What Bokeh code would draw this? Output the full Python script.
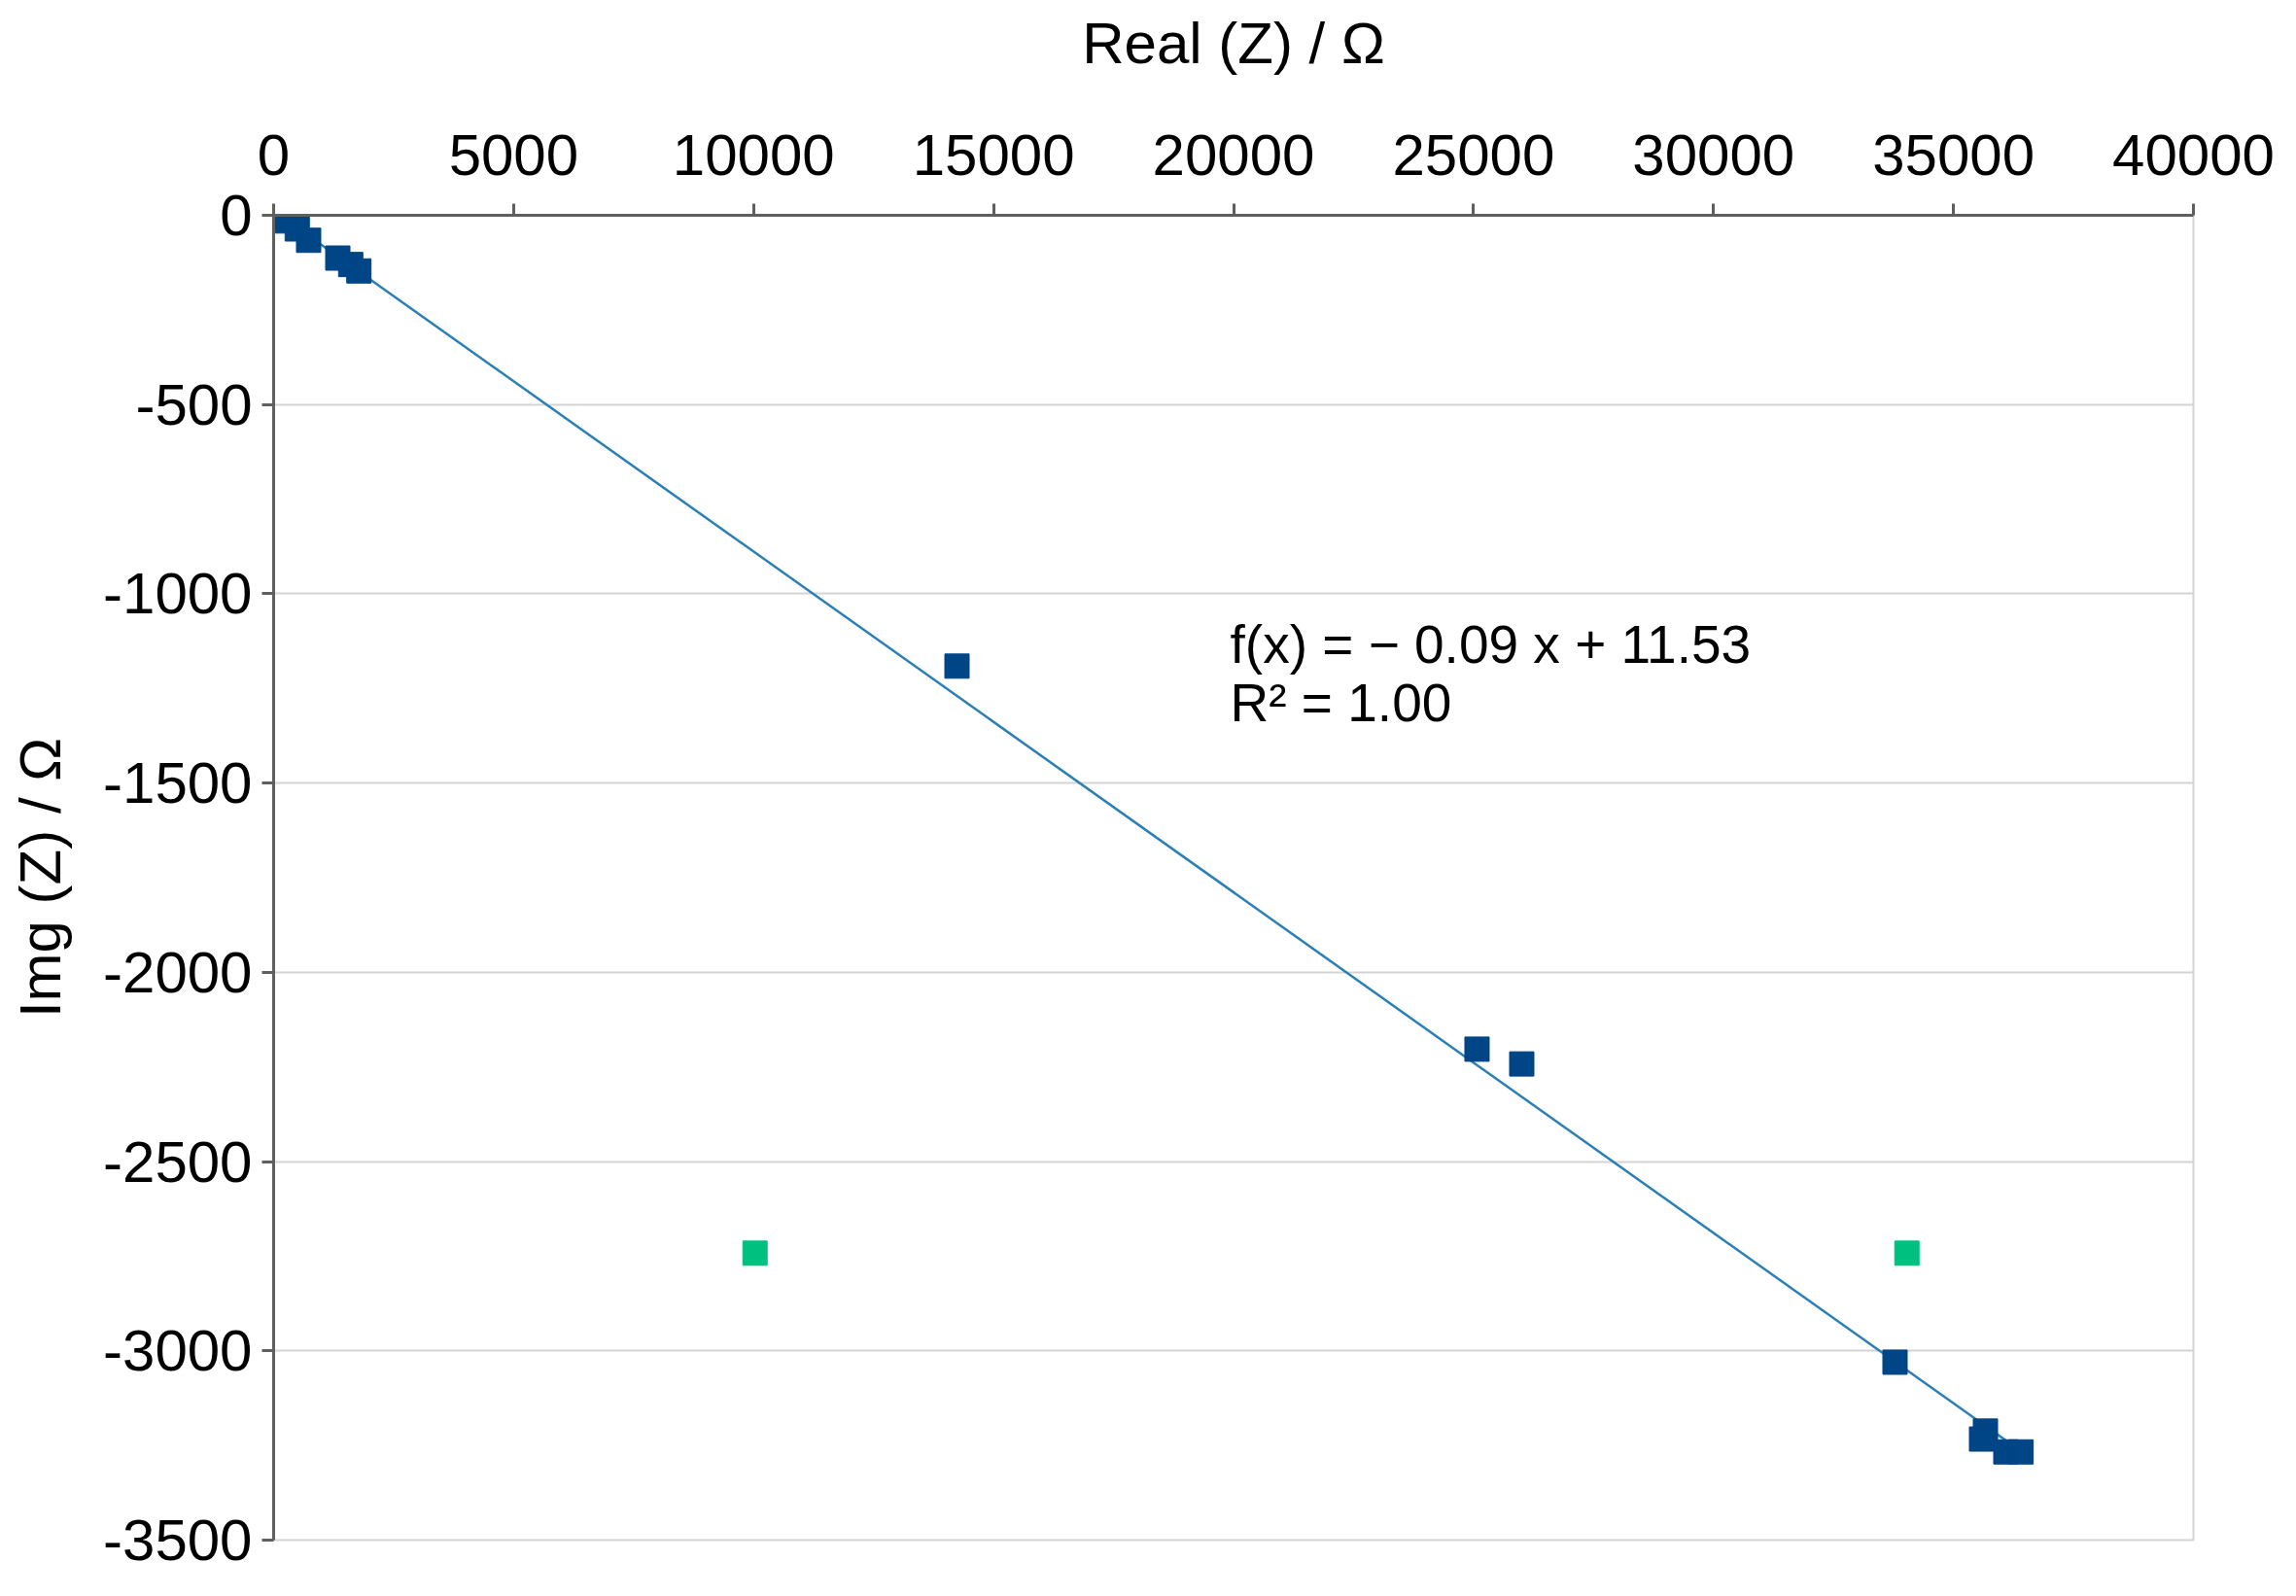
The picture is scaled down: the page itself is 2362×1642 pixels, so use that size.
from bokeh.plotting import figure
from bokeh.models import Range1d, FixedTicker, Label
from bokeh.embed import file_html
from bokeh.resources import INLINE

# Data
blue_x = [107, 290, 492, 729, 1337, 1606, 1776, 14238, 25073, 26005, 33782, 35666, 35585, 36091, 36408]
blue_y = [-4, -15, -36, -66, -113, -130, -147, -1191, -2203, -2242, -3030, -3212, -3233, -3267, -3267]
green_x = [10030, 34030]
green_y = [-2742, -2742]

slope = -0.09
intercept = 11.53
fit_text = ["f(x) = \u2212 0.09 x + 11.53", "R\u00b2 = 1.00"]

x_ticks = [0, 5000, 10000, 15000, 20000, 25000, 30000, 35000, 40000]
x_tick_labels = ["0", "5000", "10000", "15000", "20000", "25000", "30000", "35000", "40000"]
y_ticks = [0, -500, -1000, -1500, -2000, -2500, -3000, -3500]
y_tick_labels = ["0", "-500", "-1000", "-1500", "-2000", "-2500", "-3000", "-3500"]

FONT = "Liberation Sans"

p = figure(
    frame_width=1975, frame_height=1363,
    min_border_left=281, min_border_top=221, min_border_right=90, min_border_bottom=42,
    x_axis_location="above",
    x_range=Range1d(0, 40000), y_range=Range1d(-3500, 0),
    output_backend="svg", toolbar_location=None,
    background_fill_color="white", border_fill_color="white",
)
p.outline_line_color = "#d4d4d4"
p.outline_line_width = 2

# axes
for ax in (p.xaxis[0], p.yaxis[0]):
    ax.axis_line_color = "#5f5f5f"
    ax.axis_line_width = 3
    ax.major_tick_line_color = "#5f5f5f"
    ax.major_tick_line_width = 3
    ax.major_tick_out = 12
    ax.major_tick_in = 0
    ax.minor_tick_line_color = None
    ax.major_label_text_font = FONT
    ax.major_label_text_font_size = "60px"
    ax.major_label_text_color = "black"
    ax.axis_label_text_font = FONT
    ax.axis_label_text_font_size = "60px"
    ax.axis_label_text_font_style = "normal"
    ax.axis_label_text_color = "black"

p.xaxis[0].ticker = FixedTicker(ticks=x_ticks)
p.xaxis[0].major_label_overrides = {t: l for t, l in zip(x_ticks, x_tick_labels)}
p.yaxis[0].ticker = FixedTicker(ticks=y_ticks)
p.yaxis[0].major_label_overrides = {t: l for t, l in zip(y_ticks, y_tick_labels)}
p.xaxis[0].axis_label = "Real (Z) / \u03a9"
p.yaxis[0].axis_label = "Img (Z) / \u03a9"
p.xaxis[0].major_label_standoff = 30
p.yaxis[0].major_label_standoff = 10
p.xaxis[0].axis_label_standoff = 58
p.yaxis[0].axis_label_standoff = 28

p.xgrid.visible = False
p.ygrid[0].grid_line_color = "#d4d4d4"
p.ygrid[0].grid_line_width = 2

# trend line across the blue data range
xmin, xmax = min(blue_x), max(blue_x)
p.line([xmin, xmax], [slope * xmin + intercept, slope * xmax + intercept],
       line_color="#2a7fb5", line_width=2.5)

p.scatter(blue_x, blue_y, marker="square", size=25, fill_color="#004586", line_color="#004586")
p.scatter(green_x, green_y, marker="square", size=25, fill_color="#00c07f", line_color="#00c07f")

p.add_layout(Label(x=19930, y=-1133, text=fit_text[0], text_font=FONT, text_font_size="55px",
                   text_color="black", text_baseline="alphabetic"))
p.add_layout(Label(x=19930, y=-1289, text=fit_text[1], text_font=FONT, text_font_size="55px",
                   text_color="black", text_baseline="alphabetic"))

open("out.html", "w").write(file_html(p, INLINE))
